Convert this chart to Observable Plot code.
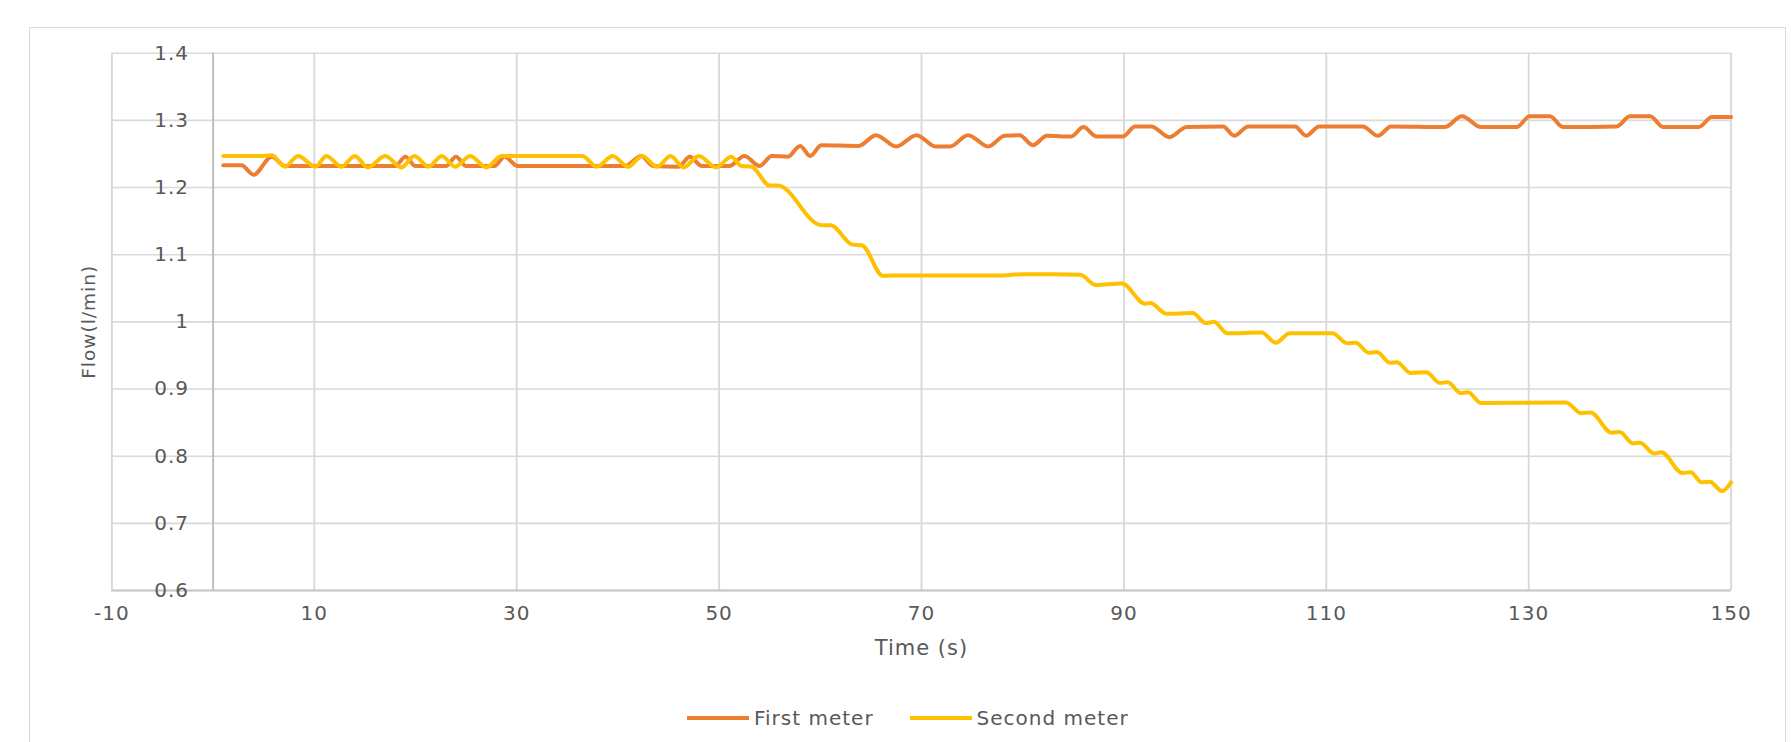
<!DOCTYPE html>
<html>
<head>
<meta charset="utf-8">
<script src="https://cdn.jsdelivr.net/npm/d3@7"></script>
<script src="https://cdn.jsdelivr.net/npm/@observablehq/plot@0.6"></script>
<style>
  html, body { margin: 0; padding: 0; background: #fff; overflow: hidden; width: 1791px; height: 742px; }
  #frame { position: absolute; left: 29px; top: 27px; width: 1757px; height: 800px; border: 1.5px solid #d9d9d9; box-sizing: border-box; }
  #chart { position: absolute; left: 0; top: 0; }
  #legend { position: absolute; left: 687px; top: 706px; height: 24px; display: flex; align-items: center;
            font-family: "DejaVu Sans"; font-size: 20px; letter-spacing: 1px; color: #595959; }
  .item { display: flex; align-items: center; }
  .swatch { width: 62px; height: 4px; margin-right: 5px; }
</style>
</head>
<body>
<div id="frame"></div>
<div id="chart"></div>
<div id="legend"></div>
<script>
// ---- data ----
const seriesNames = ["First meter", "Second meter"];
const seriesColors = ["#ED7D31", "#FFC000"];

const xTicks = [-10, 10, 30, 50, 70, 90, 110, 130, 150];
const yTicks = [0.6, 0.7, 0.8, 0.9, 1.0, 1.1, 1.2, 1.3, 1.4];

const firstTime = [1, 2.8, 4.0, 5.8, 7.1, 10, 14, 18, 19.0, 20.0, 23.0, 24.0, 25.0, 27.8, 28.8, 30.1, 35, 40.7,
  42.3, 43.5, 46.0, 47.1, 48.3, 51.0, 52.5, 54.0, 55.2, 56.8, 58.0, 59.0, 60.1, 63.8, 65.5, 67.5, 69.5, 71.4,
  72.8, 74.6, 76.6, 78.2, 79.7, 81.0, 82.4, 84.8, 86.0, 87.3, 89.9, 91.1, 92.7, 94.5, 96.2, 99.8, 100.9, 102.3,
  106.9, 108.0, 109.3, 113.6, 115.1, 116.4, 121.7, 123.4, 125.3, 128.8, 130.1, 132.1, 133.4, 138.7, 140.0,
  142.0, 143.3, 146.8, 148.1, 150.0];
const firstFlow = [1.233, 1.233, 1.219, 1.246, 1.232, 1.232, 1.232, 1.232, 1.246, 1.232, 1.232, 1.246, 1.232, 1.232, 1.246, 1.232, 1.232, 1.232,
  1.247, 1.232, 1.231, 1.246, 1.232, 1.232, 1.247, 1.232, 1.247, 1.246, 1.262, 1.247, 1.263, 1.262, 1.278, 1.261, 1.278, 1.261,
  1.261, 1.278, 1.261, 1.277, 1.278, 1.263, 1.277, 1.276, 1.290, 1.276, 1.276, 1.291, 1.291, 1.275, 1.290, 1.291, 1.277, 1.291,
  1.291, 1.277, 1.291, 1.291, 1.277, 1.291, 1.290, 1.306, 1.290, 1.290, 1.306, 1.306, 1.290, 1.291, 1.306,
  1.306, 1.290, 1.290, 1.305, 1.305];

const secondTime = [1, 3, 4.8, 5.8, 7.1, 8.4, 10.1, 11.2, 12.7, 14.0, 15.3, 17.0, 18.6, 19.9, 21.3, 22.6, 23.9, 25.4,
  27.0, 28.5, 32, 36.5, 37.9, 39.5, 41.0, 42.4, 43.9, 45.2, 46.5, 48.0, 49.7, 51.2, 52.2, 53.2, 55.0, 55.8,
  60.1, 61.0, 63.2, 64.1, 66.2, 67.0, 78.0, 80.0, 83.0, 85.7, 87.2, 89.8, 92.1, 92.6, 94.2, 96.8, 98.1, 98.9,
  100.2, 103.6, 105.0, 106.4, 110.6, 112.1, 112.9, 114.2, 115.0, 116.3, 117.0, 118.3, 119.9, 121.2, 122.0,
  123.3, 124.0, 125.3, 133.7, 135.2, 136.1, 138.2, 139.0, 140.3, 141.0, 142.4, 143.1, 145.2, 146.0, 147.1,
  147.9, 149.1, 150.0];
const secondFlow = [1.247, 1.247, 1.247, 1.248, 1.231, 1.247, 1.231, 1.247, 1.231, 1.247, 1.230, 1.247, 1.230, 1.247, 1.231, 1.247, 1.231, 1.247,
  1.230, 1.247, 1.247, 1.247, 1.231, 1.247, 1.231, 1.247, 1.231, 1.247, 1.230, 1.247, 1.230, 1.246, 1.232, 1.231, 1.203, 1.203,
  1.144, 1.144, 1.115, 1.114, 1.0685, 1.069, 1.069, 1.071, 1.071, 1.070, 1.055, 1.057, 1.027, 1.028, 1.012, 1.013, 0.998, 1.000,
  0.983, 0.984, 0.969, 0.983, 0.983, 0.968, 0.969, 0.954, 0.955, 0.939, 0.940, 0.924, 0.925, 0.909, 0.910,
  0.894, 0.895, 0.879, 0.880, 0.864, 0.865, 0.835, 0.836, 0.819, 0.820, 0.804, 0.806, 0.775, 0.776, 0.761,
  0.762, 0.748, 0.761];

// ---- build tables ----
const first = firstTime.map((t, i) => ({t, v: firstFlow[i]}));
const second = secondTime.map((t, i) => ({t, v: secondFlow[i]}));

const chart = Plot.plot({
  width: 1791,
  height: 700,
  marginLeft: 111.4,
  marginRight: 60.4,
  marginTop: 52.7,
  marginBottom: 110,
  x: {domain: [-10, 150], axis: null},
  y: {domain: [0.6, 1.4], axis: null},
  style: {fontFamily: "DejaVu Sans", fontSize: "20px", letterSpacing: "1px", color: "#595959", background: "transparent", overflow: "visible"},
  marks: [
    Plot.ruleY(yTicks, {stroke: "#d9d9d9", strokeWidth: 1.6}),
    Plot.ruleX(xTicks, {stroke: "#d9d9d9", strokeWidth: 1.9}),
    Plot.ruleY([0.6], {stroke: "#c6c6c6", strokeWidth: 1.8}),
    Plot.ruleX([0], {stroke: "#bfbfbf", strokeWidth: 2}),
    Plot.text(yTicks, {x: () => 0, y: d => d, text: d => String(d), textAnchor: "end", dx: -24, fill: "#595959", fontSize: 20}),
    Plot.text(xTicks, {x: d => d, text: d => String(d), frameAnchor: "bottom", dy: 29.5, fill: "#595959", fontSize: 20}),
    Plot.text(["Time (s)"], {text: d => d, frameAnchor: "bottom", dy: 64.5, fill: "#595959", fontSize: 21}),
    Plot.text(["Flow(l/min)"], {text: d => d, frameAnchor: "left", textAnchor: "middle", rotate: -90, dx: -23, fill: "#595959", fontSize: 18.5}),
    Plot.line(first, {x: "t", y: "v", stroke: seriesColors[0], strokeWidth: 4, curve: "monotone-x"}),
    Plot.line(second, {x: "t", y: "v", stroke: seriesColors[1], strokeWidth: 4, curve: "monotone-x"})
  ]
});
document.getElementById("chart").appendChild(chart);

// ---- legend ----
const legend = document.getElementById("legend");
seriesNames.forEach((name, i) => {
  const item = document.createElement("div");
  item.className = "item";
  if (i > 0) item.style.marginLeft = "36px";
  const sw = document.createElement("div");
  sw.className = "swatch";
  sw.style.background = seriesColors[i];
  const label = document.createElement("span");
  label.textContent = name;
  item.appendChild(sw);
  item.appendChild(label);
  legend.appendChild(item);
});
</script>
</body>
</html>
